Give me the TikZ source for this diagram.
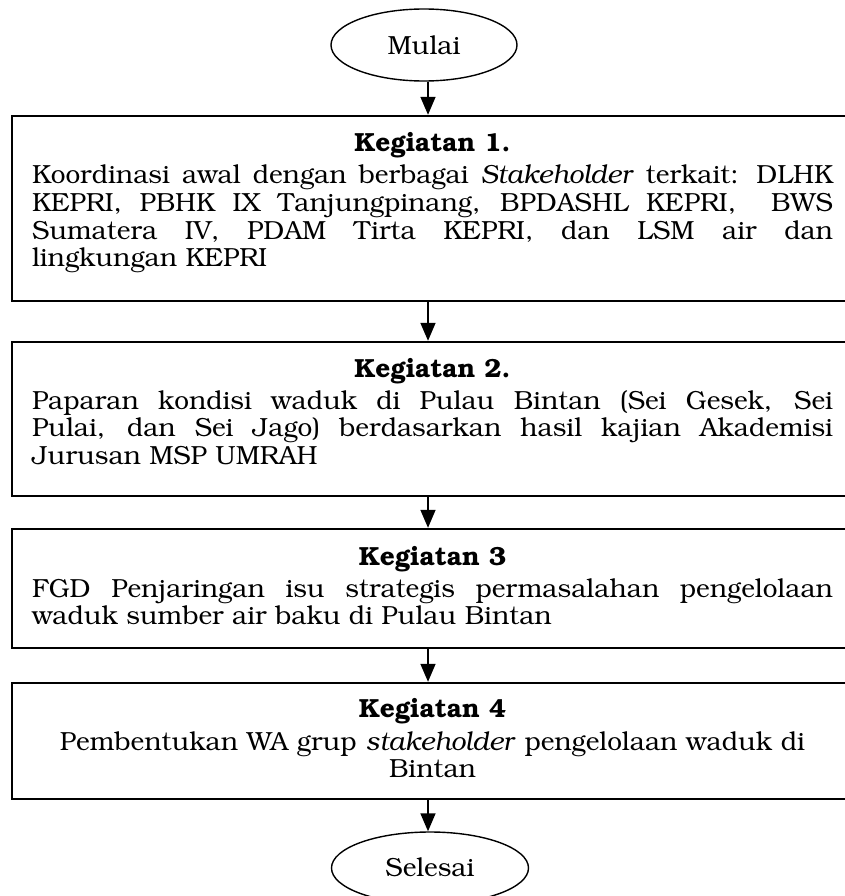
\documentclass[tikz,border=0pt]{standalone}
\usepackage[T1]{fontenc}
\usepackage{bookman}
\usetikzlibrary{arrows.meta,shapes.geometric}
\newcommand{\bodyfont}{\fontsize{26.2}{27.5}\selectfont}
\begin{document}
\begin{tikzpicture}[x=1pt,y=-1pt]
\tikzset{
  boxstyle/.style={draw, line width=2.4pt, rectangle, minimum width=848pt, inner sep=0pt},
  term/.style={draw, ellipse, line width=1.4pt, minimum height=72pt, inner sep=0pt, font=\bodyfont},
  arr/.style={line width=1.6pt, -{Triangle[length=18pt,width=15pt]}},
  body/.style={text width=801pt, inner sep=0pt, anchor=base, font=\bodyfont},
  ttl/.style={inner sep=0pt, anchor=base, font=\bodyfont\bfseries},
}
\useasboundingbox (0,0) rectangle (844,896);
\coordinate (ax) at (428,0);
% terminals
\node[term, minimum width=186pt] (m) at (424,45) {Mulai};
\node[term, minimum width=197pt] (s) at (430,868) {Selesai};
% boxes
\node[boxstyle, minimum height=185pt] (b1) at (436,208.5) {};
\node[boxstyle, minimum height=154pt] (b2) at (436,419) {};
\node[boxstyle, minimum height=119pt] (b3) at (436,588.5) {};
\node[boxstyle, minimum height=116pt] (b4) at (436,741) {};
% texts
\node[ttl] (t1) at (432.5,152) {Kegiatan 1.};
\node[body, align=justify] (p1) at (432.5,184) {Koordinasi awal dengan berbagai \textit{Stakeholder} terkait: DLHK\linebreak KEPRI, PBHK IX Tanjungpinang, BPDASHL KEPRI, \ BWS\linebreak Sumatera IV, PDAM Tirta KEPRI, dan LSM air dan\linebreak lingkungan KEPRI};
\node[ttl] (t2) at (432.5,377) {Kegiatan 2.};
\node[body, align=justify] (p2) at (432.5,409) {Paparan kondisi waduk di Pulau Bintan (Sei Gesek, Sei\linebreak Pulai, dan Sei Jago) berdasarkan hasil kajian Akademisi\linebreak Jurusan MSP UMRAH};
\node[ttl] (t3) at (432.5,565) {Kegiatan 3};
\node[body, align=justify] (p3) at (432.5,597) {FGD Penjaringan isu strategis permasalahan pengelolaan\linebreak waduk sumber air baku di Pulau Bintan};
\node[ttl] (t4) at (432.5,717) {Kegiatan 4};
\node[body, align=center] (p4) at (432.5,750) {Pembentukan WA grup \textit{stakeholder} pengelolaan waduk di\\ Bintan};
% arrows
\draw[arr] (m.south -| ax) -- (b1.north -| ax);
\draw[arr] (b1.south -| ax) -- (b2.north -| ax);
\draw[arr] (b2.south -| ax) -- (b3.north -| ax);
\draw[arr] (b3.south -| ax) -- (b4.north -| ax);
\draw[arr] (b4.south -| ax) -- (s.north -| ax);
\end{tikzpicture}
\end{document}
